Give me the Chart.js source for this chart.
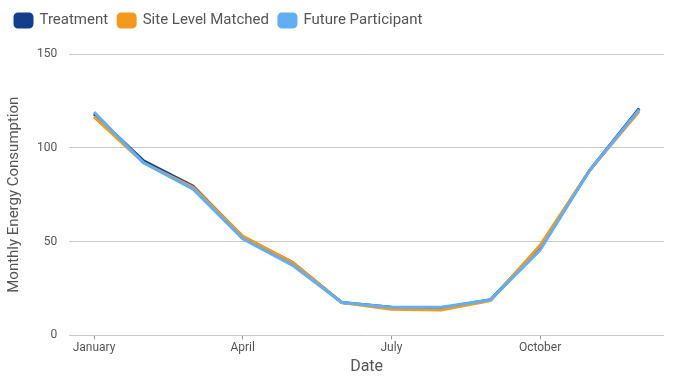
<!DOCTYPE html>
<html>
<head>
<meta charset="utf-8">
<title>Monthly Energy Consumption</title>
<script src="https://cdn.jsdelivr.net/npm/chart.js@4/dist/chart.umd.min.js"></script>
<style>
    html, body { margin: 0; padding: 0; background: #fff; }
    #wrap { width: 676px; height: 377px; position: relative; }
</style>
</head>
<body>
<div id="wrap"><canvas id="usageChart"></canvas></div>
<script>
// Monthly usage per group
const months = ['January', 'February', 'March', 'April', 'May', 'June',
    'July', 'August', 'September', 'October', 'November', 'December'];
const treatment = [118, 93, 79.5, 52.5, 39, 17.5, 15, 14.5, 19, 47, 88, 121];
const siteMatched = [116.5, 92, 79, 53, 39, 17.5, 14, 13.5, 18.5, 48, 88, 119.5];
const futureParticipant = [119, 92, 78, 51.5, 37.5, 17.5, 15, 15, 19, 45.5, 88, 120.5];
const yTicks = [0, 50, 100, 150];

const textColor = '#555';
const fontFamily = 'Roboto, "Noto Sans", sans-serif';

// extra room between the legend and the plot
const legendGap = {
    id: 'legendGap',
    beforeInit(chart) {
        const fit = chart.legend.fit;
        chart.legend.fit = function () {
            fit.call(this);
            this.height += 16;
        };
    }
};

function series(label, data, color, order) {
    return {
        label: label,
        data: data,
        order: order,
        borderColor: color,
        backgroundColor: color,
        borderWidth: 3,
        pointRadius: 0,
        tension: 0,
        fill: false
    };
}

const ctx = document.getElementById('usageChart').getContext('2d');
new Chart(ctx, {
    type: 'line',
    data: {
        labels: months,
        datasets: [
            series('Treatment', treatment, '#113f8c', 2),
            series('Site Level Matched', siteMatched, '#f39a1e', 1),
            series('Future Participant', futureParticipant, '#62aef5', 0)
        ]
    },
    plugins: [legendGap],
    options: {
        responsive: true,
        maintainAspectRatio: false,
        animation: false,
        layout: { padding: { left: 5, right: 12, top: 3, bottom: 0 } },
        plugins: {
            tooltip: { enabled: false },
            legend: {
                position: 'top',
                align: 'start',
                labels: {
                    boxWidth: 17,
                    boxHeight: 13,
                    padding: 10,
                    useBorderRadius: true,
                    borderRadius: 3,
                    color: textColor,
                    font: { family: fontFamily, size: 15 },
                    sort: (a, b) => a.datasetIndex - b.datasetIndex
                }
            }
        },
        scales: {
            x: {
                offset: true,
                border: { display: false },
                grid: {
                    offset: false,
                    drawOnChartArea: false,
                    tickLength: 4,
                    tickColor: c => (c.index % 3 === 0 ? '#999' : 'rgba(0,0,0,0)')
                },
                ticks: {
                    autoSkip: false,
                    maxRotation: 0,
                    padding: 1,
                    color: textColor,
                    font: { family: fontFamily, size: 12 },
                    callback: function (value, index) {
                        return index % 3 === 0 ? months[index] : '';
                    }
                },
                title: {
                    display: true,
                    text: 'Date',
                    color: textColor,
                    font: { family: fontFamily, size: 16 },
                    padding: { top: 2, bottom: 0 }
                }
            },
            y: {
                min: 0,
                max: 150,
                border: { display: false },
                afterBuildTicks: axis => { axis.ticks = yTicks.map(v => ({ value: v })); },
                grid: { color: '#c8c8c8', lineWidth: 1, drawTicks: false },
                ticks: {
                    padding: 12,
                    color: textColor,
                    font: { family: fontFamily, size: 12 }
                },
                title: {
                    display: true,
                    text: 'Monthly Energy Consumption',
                    color: textColor,
                    font: { family: fontFamily, size: 15 },
                    padding: { top: 0, bottom: 2 }
                }
            }
        }
    }
});
</script>
</body>
</html>
